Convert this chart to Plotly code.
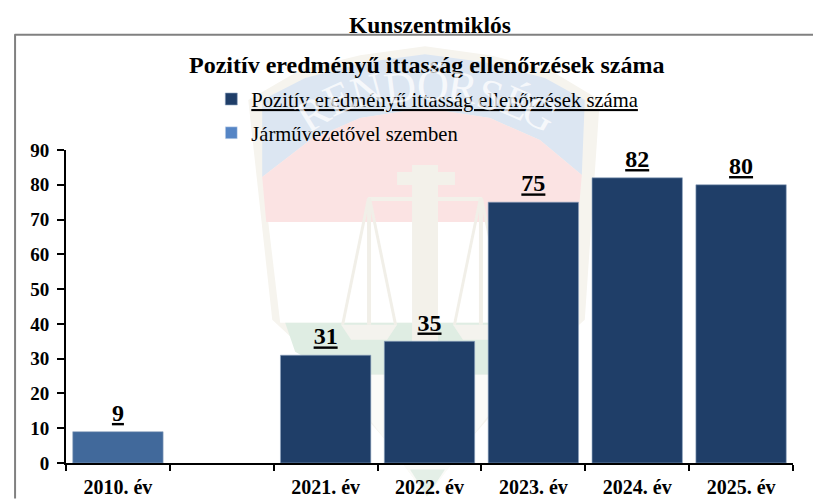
import plotly.graph_objects as go

categories = ["2010. év", " ", "2021. év", "2022. év", "2023. év", "2024. év", "2025. év"]
main_name = "Pozitív eredményű ittasság ellenőrzések száma"
main_values = [None, None, 31, 35, 75, 82, 80]
driver_name = "Járművezetővel szemben"
driver_values = [9, None, None, None, None, None, None]
y_ticks = [0, 10, 20, 30, 40, 50, 60, 70, 80, 90]
page_title = "Kunszentmiklós"
watermark_letters = ["R", "E", "N", "D", "Ő", "R", "S", "É", "G"]

# The page has an 8 px body margin, so the figure fills the rest of the window.
OFF = 8
W, H = 821 - OFF, 499 - OFF
FONT = "Liberation Serif"
L, R, T, B = 65.5 - OFF, 793.5 - OFF, 150 - OFF, 463.5 - OFF


def px(x):
    return (x - OFF - L) / (R - L)


def py(y):
    return (B - (y - OFF)) / (B - T)


def poly(points, fill):
    d = "M" + " L".join(f"{px(x):.4f},{py(y):.4f}" for x, y in points) + " Z"
    return dict(type="path", path=d, xref="paper", yref="paper", fillcolor=fill,
                line=dict(width=0), layer="below")


def label(v):
    return [None if a is None else f"<b><u>{a}</u></b>" for a in v]


edge = dict(color="#8FA5C0", width=0.6)
fig = go.Figure()
fig.add_bar(x=categories, y=main_values, name=f"<u>{main_name}</u>", marker_color="#1F3E68",
            marker_line=edge, legendgroup="a", hoverinfo="x+y")
fig.add_bar(x=categories, y=driver_values, name=driver_name, marker_color="#41699B",
            marker_line=edge, showlegend=False, hoverinfo="x+y")
fig.add_bar(x=categories, y=[None] * len(categories), name=driver_name, marker_color="#5585C5",
            legendgroup="b", hoverinfo="skip")
for values in (main_values, driver_values):
    fig.add_scatter(x=categories, y=values, mode="markers+text", text=label(values),
                    textposition="top center", cliponaxis=False, showlegend=False,
                    marker=dict(size=6, opacity=0), hoverinfo="skip",
                    textfont=dict(family=FONT, size=24, color="black"))

# faint police-shield watermark behind the chart
shapes = [
    poly([(248, 100), (300, 70), (360, 55), (425, 46), (490, 55), (550, 70), (600, 100),
          (585, 320), (540, 360), (470, 440), (427, 497), (385, 440), (315, 360), (272, 320)], "#F6F4EE"),
    poly([(262, 100), (305, 78), (365, 62), (425, 54), (485, 62), (545, 78), (585, 100),
          (582, 175), (540, 140), (490, 118), (425, 108), (360, 118), (310, 140), (262, 177)], "#DCE6F2"),
    poly([(262, 177), (310, 140), (360, 118), (425, 108), (490, 118), (540, 140), (582, 175),
          (578, 222), (266, 222)], "#FBE3E3"),
    poly([(268, 222), (576, 222), (566, 323), (280, 323)], "#FFFFFF"),
    poly([(285, 323), (562, 323), (555, 352), (520, 375), (335, 375), (295, 352)], "#DFEDE3"),
    poly([(335, 375), (520, 375), (470, 440), (427, 497), (385, 440)], "#FBFBF8"),
    poly([(410, 470), (445, 470), (427, 497)], "#E4EFE7"),
    poly([(412, 165), (438, 165), (438, 375), (412, 375)], "#F3F1EA"),
    poly([(397, 172), (455, 172), (455, 185), (397, 185)], "#F3F1EA"),
    poly([(368, 197), (482, 197), (482, 201), (368, 201)], "#F3F1EA"),
]
for cx in (369, 481):
    shapes += [
        poly([(cx - 2, 198), (cx + 2, 198), (cx + 2, 325), (cx - 2, 325)], "#F1EFE8"),
        poly([(cx - 2, 198), (cx + 1, 198), (cx - 25, 325), (cx - 28, 325)], "#F1EFE8"),
        poly([(cx - 1, 198), (cx + 2, 198), (cx + 28, 325), (cx + 25, 325)], "#F1EFE8"),
        poly([(cx - 28, 325), (cx + 28, 325), (cx + 18, 340), (cx - 18, 340)], "#F4F3EE"),
    ]
# outer page frame
shapes += [
    dict(type="line", xref="paper", yref="paper", x0=px(14), x1=px(821), y0=py(34.5), y1=py(34.5),
         line=dict(color="#808080", width=2)),
    dict(type="line", xref="paper", yref="paper", x0=px(14.5), x1=px(14.5), y0=py(34), y1=py(499),
         line=dict(color="#808080", width=2)),
]

annotations = [
    dict(text=f"<b>{page_title}</b>", x=px(430.5), y=py(25), xref="paper", yref="paper",
         showarrow=False, xanchor="center", yanchor="middle",
         font=dict(family=FONT, size=23.5, color="black")),
    dict(text=f"<b>{main_name}</b>", x=px(426), y=py(65), xref="paper", yref="paper",
         showarrow=False, xanchor="center", yanchor="middle",
         font=dict(family=FONT, size=24, color="black")),
]
letter_pos = [(313, 113, -32), (338, 98, -25), (367, 90, -15), (400, 87, -7), (433, 85, 2),
              (463, 87, 9), (490, 95, 17), (517, 103, 24), (540, 113, 30)]
for ch, (lx, ly, ang) in zip(watermark_letters, letter_pos):
    annotations.append(dict(text=ch, x=px(lx), y=py(ly), xref="paper", yref="paper",
                            showarrow=False, xanchor="center", yanchor="middle", textangle=ang,
                            font=dict(family=FONT, size=44, color="rgba(255,255,255,0.75)")))

fig.update_layout(
    width=W, height=H, autosize=False,
    margin=dict(l=L, r=W - R, t=T, b=H - B, pad=0),
    paper_bgcolor="white", plot_bgcolor="rgba(0,0,0,0)",
    barmode="overlay", bargap=0.13,
    font=dict(family=FONT, color="black"),
    shapes=shapes, annotations=annotations,
    showlegend=True,
    legend=dict(x=px(211), y=py(79), xanchor="left", yanchor="top",
                bgcolor="rgba(0,0,0,0)", borderwidth=0, traceorder="grouped",
                tracegroupgap=4, font=dict(family=FONT, size=20.6, color="black"),
                itemclick=False, itemdoubleclick=False),
    xaxis=dict(type="category", categoryorder="array", categoryarray=categories,
               tickmode="array", tickvals=categories, ticktext=[f"<b>{c}</b>" for c in categories],
               tickson="boundaries", ticks="outside", ticklen=6, tickwidth=2, tickcolor="black",
               showline=True, linecolor="black", linewidth=2, showgrid=False, zeroline=False,
               automargin=False, tickangle=0,
               tickfont=dict(family=FONT, size=20, color="black"), ticklabelstandoff=5),
    yaxis=dict(range=[0, 90], tickvals=y_ticks, ticktext=[f"<b>{t}</b>" for t in y_ticks],
               ticks="outside", ticklen=7, tickwidth=2, tickcolor="black",
               showline=True, linecolor="black", linewidth=2, showgrid=False, zeroline=False,
               automargin=False, ticklabelstandoff=4,
               tickfont=dict(family=FONT, size=19, color="black")),
)

fig.write_html("out.html", config=dict(displayModeBar=False))
